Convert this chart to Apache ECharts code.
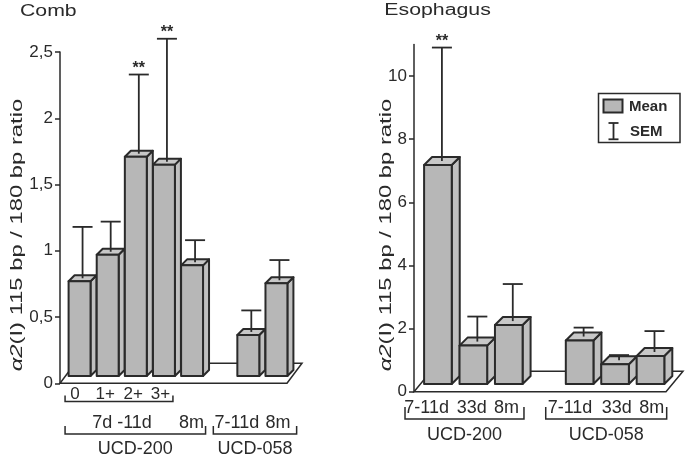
<!DOCTYPE html>
<html><head><meta charset="utf-8">
<script src="https://cdn.jsdelivr.net/npm/echarts@6/dist/echarts.min.js"></script>
<style>html,body{margin:0;padding:0;background:#fff}#c{width:685px;height:458px}</style>
</head><body><div id="c"></div>
<script>
// ---------- data ----------
const combCategories = ['0', '1+', '2+', '3+', '8m', '', '7-11d', '8m'];
const combMean = [0.77, 0.97, 1.71, 1.65, 0.89, null, 0.365, 0.755];
const combSem  = [0.41, 0.25, 0.62, 0.95, 0.19, null, 0.185, 0.175];
const combSig  = ['', '', '**', '**', '', '', '', ''];
const combSubGroups = [{ name: '7d -11d', from: 0, to: 3 }];
const combGroups = [{ name: 'UCD-200', from: 0, to: 4 }, { name: 'UCD-058', from: 6, to: 7 }];

const esoCategories = ['7-11d', '33d', '8m', '', '7-11d', '33d', '8m'];
const esoMean = [7.18, 1.46, 2.11, null, 1.62, 0.87, 1.13];
const esoSem  = [3.72, 0.92, 1.30, null, 0.41, 0.29, 0.79];
const esoSig  = ['**', '', '', '', '', '', ''];
const esoYTicks = [0, 2, 4, 6, 8, 10];
const esoGroups = [{ name: 'UCD-200', from: 0, to: 2 }, { name: 'UCD-058', from: 4, to: 6 }];

const titles = ['Comb', 'Esophagus'];
const yName = '{i|α2}(I) 115 bp / 180 bp ratio';
const legendNames = ['Mean', 'SEM'];

// ---------- style ----------
const INK = '#2a2a2a';
const FRONT = '#b7b7b7', TOP = '#c8c8c8', SIDE = '#c0c0c0';
const FONT = '"Liberation Sans", Arial, Helvetica, sans-serif';

const combCfg = { ox: 5.5, oy: -7.3, ratio: 0.78, depth: 6, floor: [15, -20], ext: 2 };
const esoCfg  = { ox: 6.2, oy: -7.7, ratio: 0.78, depth: 8, floor: [17, -20.5], ext: 4 };

function floorItem(cfg) {
  return function (params, api) {
    const cs = params.coordSys;
    const y = cs.y + cs.height, x0 = cs.x, x1 = cs.x + cs.width + cfg.ext;
    const dx = cfg.floor[0], dy = cfg.floor[1];
    return { type: 'polygon', shape: { points: [[x0, y], [x1, y], [x1 + dx, y + dy], [x0 + dx, y + dy]] },
      style: { fill: '#fff', stroke: INK, lineWidth: 1.5 } };
  };
}
function barItem(cfg) {
  return function (params, api) {
    const i = api.value(0), v = api.value(1);
    if (isNaN(v)) return null;
    const top = api.coord([i, v]), base = api.coord([i, 0]);
    const bw = api.size([1, 0])[0] * cfg.ratio;
    const cx = top[0] + cfg.ox, x0 = cx - bw / 2, x1 = cx + bw / 2;
    const yT = top[1], yB = base[1] + cfg.oy, d = cfg.depth;
    const st = (f) => ({ fill: f, stroke: INK, lineWidth: 2, lineJoin: 'round' });
    return { type: 'group', children: [
      { type: 'polygon', shape: { points: [[x1, yB], [x1 + d, yB - d], [x1 + d, yT - d], [x1, yT]] }, style: st(SIDE) },
      { type: 'polygon', shape: { points: [[x0, yT], [x0 + d, yT - d], [x1 + d, yT - d], [x1, yT]] }, style: st(TOP) },
      { type: 'rect', shape: { x: x0, y: yT, width: bw, height: yB - yT }, style: st(FRONT) }
    ] };
  };
}
function errItem(cfg, sig) {
  return function (params, api) {
    const i = api.value(0), v = api.value(1), s = api.value(2);
    if (isNaN(v)) return null;
    const top = api.coord([i, v]), et = api.coord([i, v + s]);
    const x = top[0] + cfg.ox + cfg.depth / 2, y0 = top[1] - cfg.depth / 2, y1 = et[1];
    const ch = [
      { type: 'line', shape: { x1: x, y1: y0, x2: x, y2: y1 }, style: { stroke: INK, lineWidth: 1.8 } },
      { type: 'line', shape: { x1: x - 10, y1: y1, x2: x + 10, y2: y1 }, style: { stroke: INK, lineWidth: 1.8 } }
    ];
    const t = sig[params.dataIndex];
    if (t) ch.push({ type: 'text', x: x, y: y1 - 6, style: { text: t, fill: INK, font: 'bold 16px ' + FONT, align: 'center', verticalAlign: 'middle' } });
    return { type: 'group', children: ch };
  };
}

const chart = echarts.init(document.getElementById('c'), null, { renderer: 'canvas' });
const axisLbl = { color: INK, fontFamily: FONT };

chart.setOption({
  backgroundColor: '#fff',
  animation: false,
  grid: [
    { left: 60, top: 52, width: 225, height: 331.3 },
    { left: 414, top: 44.4, width: 248, height: 347.3 }
  ],
  xAxis: [
    { gridIndex: 0, type: 'category', data: combCategories, axisLine: { show: false },
      axisTick: { alignWithLabel: true, length: 5, lineStyle: { color: INK, width: 1.5 } }, axisLabel: { show: false } },
    { gridIndex: 1, type: 'category', data: esoCategories, axisLine: { show: false },
      axisTick: { alignWithLabel: true, length: 5, interval: (idx, val) => val !== '', lineStyle: { color: INK, width: 1.5 } },
      axisLabel: { show: false } }
  ],
  yAxis: [
    { gridIndex: 0, type: 'value', min: 0, max: 2.5, interval: 0.5, splitLine: { show: false },
      axisLine: { show: true, lineStyle: { color: INK, width: 1.5 } },
      axisTick: { show: true, length: 5, lineStyle: { color: INK, width: 1.5 } },
      axisLabel: Object.assign({ fontSize: 17, margin: 7, formatter: v => String(v).replace('.', ',') }, axisLbl) },
    { gridIndex: 1, type: 'value', min: 0, max: 11, splitLine: { show: false },
      axisLine: { show: true, lineStyle: { color: INK, width: 1.5 } },
      axisTick: { show: true, length: 5, customValues: esoYTicks, lineStyle: { color: INK, width: 1.5 } },
      axisLabel: Object.assign({ fontSize: 17, margin: 7, customValues: esoYTicks }, axisLbl) }
  ],
  series: [
    { type: 'custom', name: 'floor0', xAxisIndex: 0, yAxisIndex: 0, data: [[0, 0]], renderItem: floorItem(combCfg), z: 1, silent: true },
    { type: 'custom', name: legendNames[0], xAxisIndex: 0, yAxisIndex: 0, clip: false, z: 2,
      data: combMean.map((v, i) => [i, v]), renderItem: barItem(combCfg) },
    { type: 'custom', name: legendNames[1], xAxisIndex: 0, yAxisIndex: 0, clip: false, z: 3,
      data: combMean.map((v, i) => [i, v, combSem[i]]), renderItem: errItem(combCfg, combSig) },
    { type: 'custom', name: 'floor1', xAxisIndex: 1, yAxisIndex: 1, data: [[0, 0]], renderItem: floorItem(esoCfg), z: 1, silent: true },
    { type: 'custom', name: legendNames[0], xAxisIndex: 1, yAxisIndex: 1, clip: false, z: 2,
      data: esoMean.map((v, i) => [i, v]), renderItem: barItem(esoCfg) },
    { type: 'custom', name: legendNames[1], xAxisIndex: 1, yAxisIndex: 1, clip: false, z: 3,
      data: esoMean.map((v, i) => [i, v, esoSem[i]]), renderItem: errItem(esoCfg, esoSig) }
  ]
});

// ---------- annotations placed through the axes ----------
const g = [];
const px = (grid, i) => chart.convertToPixel({ gridIndex: grid }, [i, 0])[0];
function txt(x, y, text, size, opts) {
  g.push(Object.assign({ type: 'text', x: x, y: y, z: 10,
    style: { text: text, fill: INK, font: (opts && opts.bold ? 'bold ' : '') + size + 'px ' + FONT,
      align: (opts && opts.align) || 'center', verticalAlign: 'middle' } }, opts && opts.el));
}
function bracket(x0, x1, y, h) {
  g.push({ type: 'polyline', z: 10, shape: { points: [[x0, y - h], [x0, y], [x1, y], [x1, y - h]] },
    style: { stroke: INK, lineWidth: 1.5, fill: null } });
}

// Comb
const combNudge = [1, 3, 3, 2, 5, 0, -6, 7];
const inSub = i => combSubGroups.some(s => i >= s.from && i <= s.to);
combCategories.forEach((c, i) => {
  if (!c) return;
  if (inSub(i)) txt(px(0, i) + combNudge[i], 394.5, c, 17);
  else txt(px(0, i) + combNudge[i], 423, c, 18);
});
const combSubPads = [[-9, 14.5]];
combSubGroups.forEach((s, k) => {
  const a = px(0, s.from) + combSubPads[k][0], b = px(0, s.to) + combSubPads[k][1];
  bracket(a, b, 401.5, 6);
  txt((a + b) / 2 + 3, 423, s.name, 18);
});
const combGroupPads = [[-9, 19], [-29.5, 25.7]];
combGroups.forEach((s, k) => {
  const a = px(0, s.from) + combGroupPads[k][0], b = px(0, s.to) + combGroupPads[k][1];
  bracket(a, b, 434, 8);
  txt((a + b) / 2, 449, s.name, 18);
});

// Esophagus
const esoNudge = [-5, 4.6, 4, 0, -3.4, 8, 7.4];
esoCategories.forEach((c, i) => { if (c) txt(px(1, i) + esoNudge[i], 408.3, c, 18); });
const esoGroupPads = [[-26.7, 21.4], [-27.7, 22.4]];
esoGroups.forEach((s, k) => {
  const a = px(1, s.from) + esoGroupPads[k][0], b = px(1, s.to) + esoGroupPads[k][1];
  bracket(a, b, 419, 12);
  txt((a + b) / 2, 435, s.name, 18);
});

// titles
txt(20, 11.5, titles[0], 17, { align: 'left', el: { scaleX: 1.25 } });
txt(384.3, 10.5, titles[1], 16, { align: 'left', el: { scaleX: 1.33 } });

// y axis names
[[17, 235], [386, 235]].forEach(p => {
  g.push({ type: 'text', x: p[0], y: p[1], rotation: Math.PI / 2, scaleX: 1.4, z: 10,
    style: { text: yName, fill: INK, font: '17px ' + FONT, align: 'center', verticalAlign: 'middle',
      rich: { i: { fontStyle: 'italic', fontSize: 17, fontFamily: FONT, fill: INK } } } });
});

// legend
g.push({ type: 'rect', z: 10, shape: { x: 598.5, y: 93.5, width: 81.5, height: 49 }, style: { fill: '#fff', stroke: INK, lineWidth: 1.5 } });
g.push({ type: 'rect', z: 11, shape: { x: 603.5, y: 99.5, width: 19, height: 13 }, style: { fill: FRONT, stroke: INK, lineWidth: 2 } });
g.push({ type: 'polyline', z: 11, shape: { points: [[608.5, 123], [618.5, 123]] }, style: { stroke: INK, lineWidth: 1.8 } });
g.push({ type: 'polyline', z: 11, shape: { points: [[608.5, 139.3], [618.5, 139.3]] }, style: { stroke: INK, lineWidth: 1.8 } });
g.push({ type: 'polyline', z: 11, shape: { points: [[613.5, 123], [613.5, 139.3]] }, style: { stroke: INK, lineWidth: 1.8 } });
txt(629, 107, legendNames[0], 15, { bold: true, align: 'left', el: { z: 11 } });
txt(630, 131.5, legendNames[1], 15, { bold: true, align: 'left', el: { z: 11 } });

chart.setOption({ graphic: { elements: g } });
</script>
</body></html>
